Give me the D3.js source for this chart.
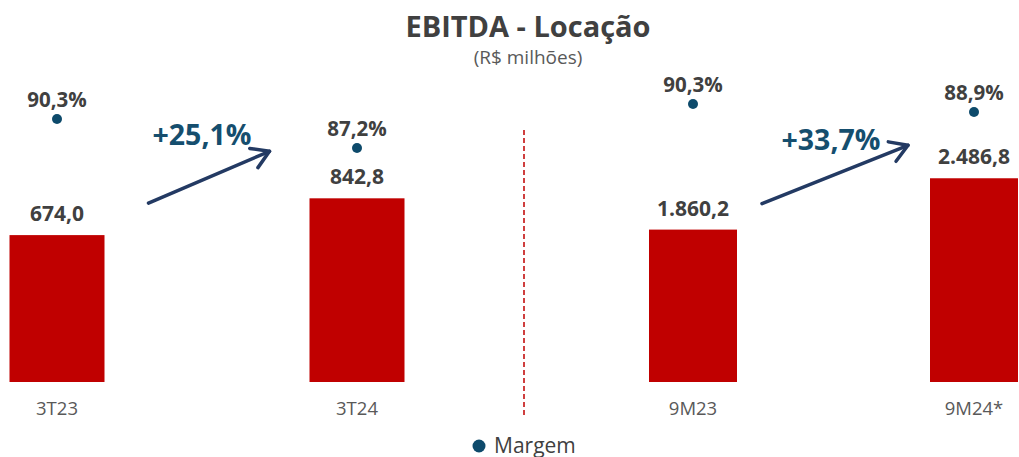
<!DOCTYPE html>
<html><head><meta charset="utf-8">
<script src="https://cdn.jsdelivr.net/npm/d3@7"></script>
<style>body{margin:0;background:#fff}svg{display:block;font-family:"Open Sans","Noto Sans",sans-serif}</style>
</head><body><svg id="c" width="1019" height="457"></svg>
<script>
const leftCategories = ["3T23", "3T24"];
const leftEbitda = [674.0, 842.8];
const leftMargin = [90.3, 87.2];
const rightCategories = ["9M23", "9M24*"];
const rightEbitda = [1860.2, 2486.8];
const rightMargin = [90.3, 88.9];
const growthLabels = ["+25,1%", "+33,7%"];
const title = "EBITDA - Locação";
const subtitle = "(R$ milhões)";
const legendLabel = "Margem";

const loc = d3.formatLocale({decimal: ",", thousands: ".", grouping: [3], currency: ["R$", ""]});
const fmtVal = loc.format(",.1f");
const fmtPct = v => loc.format(".1f")(v) + "%";

const svg = d3.select("#c");
const baseY = 382;
const barColor = "#c00000";
const dotColor = "#0d4a6b";
const textColor = "#404040";
const arrowColor = "#233a63";

svg.append("text").attr("x", 528).attr("y", 37).attr("text-anchor", "middle")
  .attr("font-size", 29).attr("font-weight", 700).attr("fill", textColor).text(title);
svg.append("text").attr("x", 528).attr("y", 64).attr("text-anchor", "middle")
  .attr("font-size", 19).attr("fill", "#595959").text(subtitle);

const panels = [
  {cats: leftCategories, vals: leftEbitda, marg: leftMargin,
   x: d3.scalePoint().domain(leftCategories).range([57, 357]), bw: 95,
   y: d3.scaleLinear().domain([0, 1560]).range([baseY, baseY - 340]),
   m: d3.scaleLinear().domain([80, 95]).range([215.3, 75]),
   growth: growthLabels[0], gx: 202, gy: 145,
   a: {sx: 44, sy: -32, ex: -40, ey: -47}},
  {cats: rightCategories, vals: rightEbitda, marg: rightMargin,
   x: d3.scalePoint().domain(rightCategories).range([693, 974]), bw: 88,
   y: d3.scaleLinear().domain([0, 4150]).range([baseY, baseY - 340]),
   m: d3.scaleLinear().domain([80, 95]).range([162.8, 77.2]),
   growth: growthLabels[1], gx: 831, gy: 150,
   a: {sx: 25, sy: -26, ex: -22, ey: -33}}
];

panels.forEach(p => {
  const g = svg.append("g");
  const data = p.cats.map((c, i) => ({c, v: p.vals[i], m: p.marg[i]}));
  g.selectAll("rect").data(data).join("rect")
    .attr("x", d => p.x(d.c) - p.bw / 2).attr("width", p.bw)
    .attr("y", d => p.y(d.v)).attr("height", d => baseY - p.y(d.v))
    .attr("fill", barColor);
  g.selectAll("text.val").data(data).join("text").attr("class", "val")
    .attr("x", d => p.x(d.c)).attr("y", d => p.y(d.v) - 14)
    .attr("text-anchor", "middle").attr("font-size", 21).attr("font-weight", 700)
    .attr("fill", textColor).text(d => fmtVal(d.v));
  g.selectAll("circle").data(data).join("circle")
    .attr("cx", d => p.x(d.c)).attr("cy", d => p.m(d.m)).attr("r", 5).attr("fill", dotColor);
  g.selectAll("text.pct").data(data).join("text").attr("class", "pct")
    .attr("x", d => p.x(d.c)).attr("y", d => p.m(d.m) - 12)
    .attr("text-anchor", "middle").attr("font-size", 20.5).attr("font-weight", 700)
    .attr("fill", textColor).text(d => fmtPct(d.m));
  g.selectAll("text.cat").data(data).join("text").attr("class", "cat")
    .attr("x", d => p.x(d.c)).attr("y", 415)
    .attr("text-anchor", "middle").attr("font-size", 18.5)
    .attr("fill", "#595959").text(d => d.c);
  const d0 = data[0], d1 = data[1];
  const x1 = p.x(d0.c) + p.bw / 2 + p.a.sx, y1 = p.y(d0.v) + p.a.sy;
  const x2 = p.x(d1.c) - p.bw / 2 + p.a.ex, y2 = p.y(d1.v) + p.a.ey;
  g.append("line").attr("x1", x1).attr("y1", y1).attr("x2", x2).attr("y2", y2)
    .attr("stroke", arrowColor).attr("stroke-width", 3.5).attr("stroke-linecap", "round");
  const ang = Math.atan2(y2 - y1, x2 - x1), L = 20, spread = 0.55;
  const head = [[x2 - L * Math.cos(ang - spread), y2 - L * Math.sin(ang - spread)], [x2, y2],
                [x2 - L * Math.cos(ang + spread), y2 - L * Math.sin(ang + spread)]];
  g.append("path").attr("d", d3.line()(head)).attr("fill", "none")
    .attr("stroke", arrowColor).attr("stroke-width", 3.5)
    .attr("stroke-linecap", "round").attr("stroke-linejoin", "round");
  g.append("text").attr("x", p.gx).attr("y", p.gy).attr("text-anchor", "middle")
    .attr("font-size", 28.5).attr("font-weight", 700).attr("fill", "#154e6e").text(p.growth);
});

svg.append("line").attr("x1", 524).attr("x2", 524).attr("y1", 130).attr("y2", 416)
  .attr("stroke", "#c00000").attr("stroke-width", 1.5).attr("stroke-dasharray", "5,3");

svg.append("circle").attr("cx", 479).attr("cy", 446).attr("r", 6.5).attr("fill", dotColor);
svg.append("text").attr("x", 494).attr("y", 453).attr("font-size", 21)
  .attr("fill", textColor).text(legendLabel);
</script></body></html>
